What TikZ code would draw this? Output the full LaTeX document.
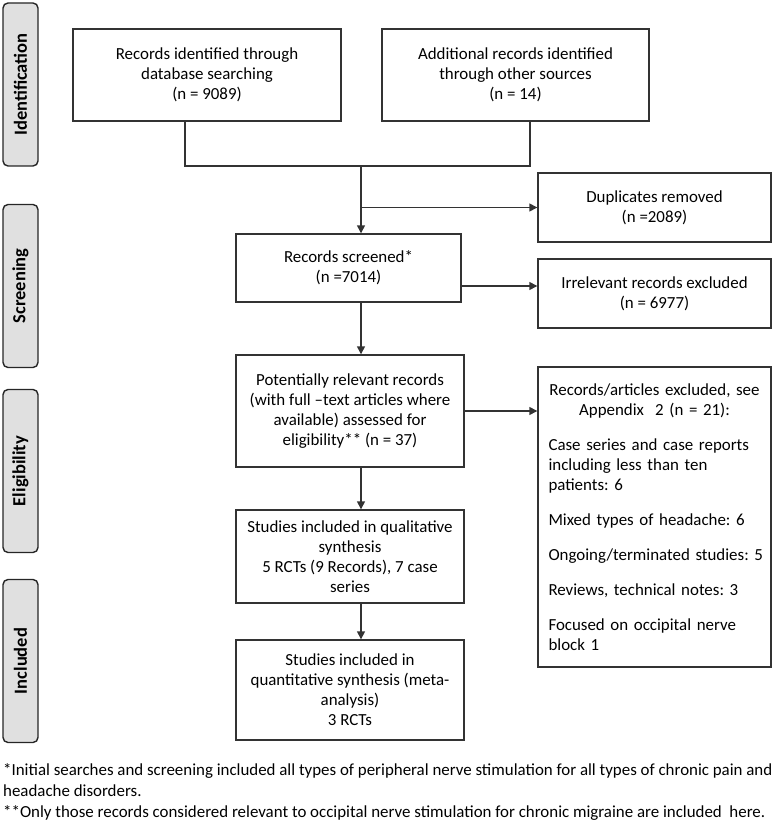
\documentclass[tikz,border=0pt]{standalone}
\usepackage{fontspec}
\setmainfont{Carlito}
\usetikzlibrary{arrows.meta}

\begin{document}
\frenchspacing
\begin{tikzpicture}[x=1pt, y=-1pt,
    caja/.style={draw=black!80, line width=1.4pt, align=center, inner sep=0pt,
        font=\fontsize{16.9}{20}\selectfont},
    fase/.style={draw=black!85, line width=1.4pt, fill=black!12, rounded corners=5pt,
        rotate=90, minimum width=163pt, minimum height=35pt, inner sep=0pt,
        font=\fontsize{18.5}{20}\selectfont\bfseries},
    linea/.style={line width=1.4pt, draw=black!80},
    flecha/.style={linea, -{Triangle[length=8pt,width=8pt]}}]

    % Fijamos el marco
    \useasboundingbox (0,0) rectangle (774,826);

    % Etiquetas de las fases
    \foreach \y/\t/\n in {84.5/Identification/fid, 286/Screening/fsc,
                          471/Eligibility/fel, 661/Included/fin}
        \node[fase] (\n) at (20.5,\y) {\t};

    % Cajas de identificacion
    \node[caja, minimum width=268pt, minimum height=92pt] (base) at (207,75)
        {Records identified through\\database searching\\(n = 9089)};
    \node[caja, minimum width=267pt, minimum height=92pt] (otras) at (515.5,75)
        {Additional records identified\\through other sources\\(n = 14)};

    % Cajas centrales
    \node[caja, minimum width=225pt, minimum height=68pt] (cribado) at (348.5,268)
        {Records screened*\\(n =7014)};
    \node[caja, minimum width=228pt, minimum height=112pt] (elegib) at (350,411)
        {Potentially relevant records\\(with full –text articles where\\available) assessed for\\eligibility** (n = 37)};
    \node[caja, minimum width=228pt, minimum height=93pt] (cualit) at (350,556.5)
        {Studies included in qualitative\\synthesis\\5 RCTs (9 Records), 7 case\\series};
    \node[caja, minimum width=228pt, minimum height=100pt] (cuantit) at (350,690)
        {Studies included in\\quantitative synthesis (meta-\\analysis)\\3 RCTs};

    % Cajas de exclusion
    \node[caja, minimum width=233pt, minimum height=69pt] (duplic) at (654.5,207.5)
        {Duplicates removed\\(n =2089)};
    \node[caja, minimum width=233pt, minimum height=69pt] (irrel) at (654.5,293.5)
        {Irrelevant records excluded\\(n = 6977)};
    \node[caja, minimum width=233pt, minimum height=300pt, text width=212pt, align=left] (excl) at (654.5,517)
        {\setlength{\parskip}{15pt}%
        {\centering Records/articles excluded, see\\Appendix~ 2 (n = 21):\par}
        Case series and case reports\\including less than ten\\patients: 6\par
        Mixed types of headache: 6\par
        \mbox{Ongoing/terminated studies: 5}\par
        Reviews, technical notes: 3\par
        Focused on occipital nerve\\block 1};

    % Conectores
    \coordinate (union) at (361,166);
    \draw[linea] ([xshift=-22pt]base.south) |- (union) -| ([xshift=14.5pt]otras.south);
    \draw[flecha] (union) -- (union |- cribado.north);
    \draw[flecha] (union |- duplic.west) -- (duplic.west);
    \draw[flecha] ([yshift=-18pt]cribado.east) -- ([yshift=-18pt]cribado.east -| irrel.west);
    \draw[flecha] (cribado.south -| union) -- (elegib.north -| union);
    \draw[flecha] (elegib.east) -- (elegib.east -| excl.west);
    \draw[flecha] (elegib.south -| union) -- (cualit.north -| union);
    \draw[flecha] (cualit.south -| union) -- (cuantit.north -| union);

    % Notas al pie
    \node[anchor=north west, inner sep=0pt, align=left, font=\fontsize{16.9}{21}\selectfont] (notas) at (3,763)
        {*Initial searches and screening included all types of peripheral nerve stimulation for all types of chronic pain and\\
        headache disorders.\\
        **Only those records considered relevant to occipital nerve stimulation for chronic migraine are included~ here.};

\end{tikzpicture}
\end{document}
